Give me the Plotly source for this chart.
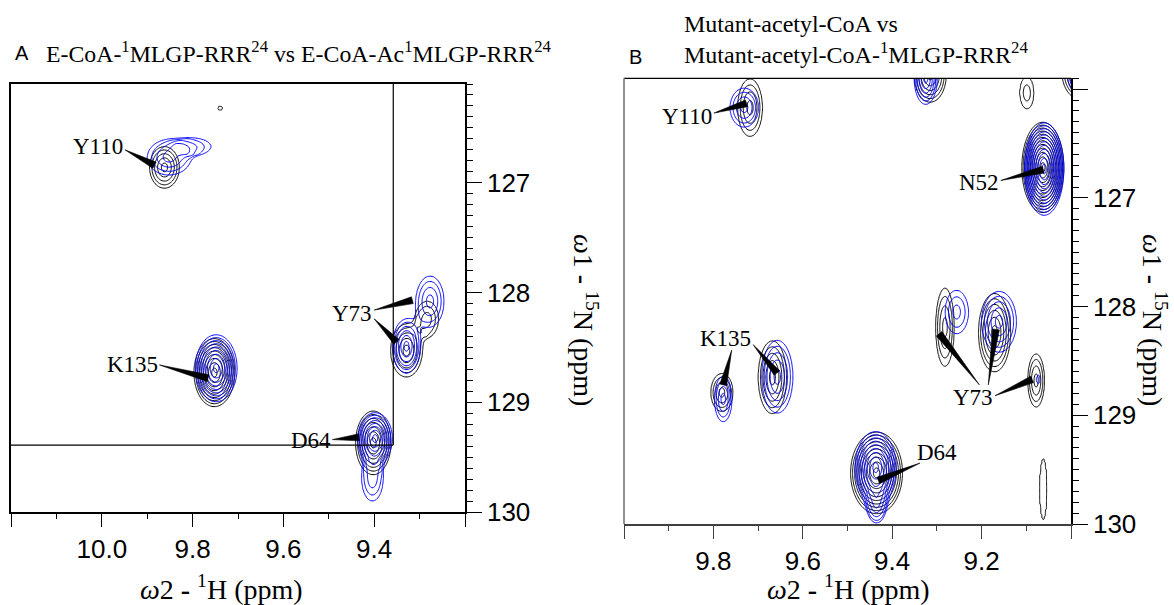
import numpy as np
import plotly.graph_objects as go

FIG_W, FIG_H = 1174, 605

# ---------------- Panel A: E-CoA-1MLGP-RRR24 (black) vs E-CoA-Ac1MLGP-RRR24 (blue) ----------------
# per peak: 1H shift, 15N shift, half-extent of lowest contour (1H, 15N), number of contour levels
A_BLACK_H = [9.862, 9.752, 9.329, 9.283, 9.402, 9.739]
A_BLACK_N = [126.86, 128.73, 128.53, 128.24, 129.37, 126.32]
A_BLACK_DH = [0.033, 0.045, 0.035, 0.025, 0.039, 0.006]
A_BLACK_DN = [0.19, 0.31, 0.24, 0.16, 0.29, 0.02]
A_BLACK_LV = [5, 9, 5, 3, 7, 1]

A_BLUE_H = [9.852, 9.800, 9.748, 9.329, 9.277, 9.398, 9.404]
A_BLUE_N = [126.77, 126.67, 128.69, 128.49, 128.08, 129.33, 129.71]
A_BLUE_DH = [0.048, 0.040, 0.046, 0.031, 0.031, 0.038, 0.023]
A_BLUE_DN = [0.16, 0.075, 0.305, 0.245, 0.23, 0.235, 0.19]
A_BLUE_LV = [4, 2, 9, 6, 4, 8, 3]

A_LABELS = ["Y110", "K135", "Y73", "D64"]
A_LABEL_H = [10.009, 9.932, 9.448, 9.539]
A_LABEL_N = [126.67, 128.66, 128.19, 129.35]
A_PTR_FROM_H = [9.949, 9.873, 9.400, 9.400, 9.492]
A_PTR_FROM_N = [126.70, 128.66, 128.16, 128.24, 129.34]
A_PTR_TO_H = [9.884, 9.766, 9.316, 9.351, 9.434]
A_PTR_TO_N = [126.84, 128.78, 128.07, 128.45, 129.32]

# ---------------- Panel B: Mutant-acetyl-CoA (black) vs Mutant-acetyl-CoA-1MLGP-RRR24 (blue) ----------------
B_BLACK_H = [9.718, 9.315, 9.099, 8.975, 9.063, 9.781, 9.668, 9.282, 9.171, 9.078, 9.435, 9.062]
B_BLACK_N = [126.17, 125.87, 126.03, 125.85, 126.72, 128.79, 128.65, 128.19, 128.24, 128.68, 129.53, 129.68]
B_BLACK_DH = [0.028, 0.036, 0.016, 0.045, 0.047, 0.025, 0.032, 0.021, 0.036, 0.019, 0.058, 0.009]
B_BLACK_DN = [0.265, 0.25, 0.145, 0.25, 0.415, 0.175, 0.335, 0.36, 0.36, 0.245, 0.375, 0.285]
B_BLACK_LV = [4, 6, 2, 7, 12, 4, 5, 4, 6, 4, 10, 1]

B_BLUE_H = [9.731, 9.325, 8.978, 9.060, 9.778, 9.657, 9.256, 9.161, 9.073, 9.437, 9.435]
B_BLUE_N = [126.17, 125.90, 125.86, 126.735, 128.85, 128.645, 128.05, 128.14, 128.67, 129.48, 129.81]
B_BLUE_DH = [0.032, 0.026, 0.030, 0.044, 0.020, 0.035, 0.026, 0.039, 0.005, 0.046, 0.020]
B_BLUE_DN = [0.18, 0.24, 0.20, 0.425, 0.21, 0.335, 0.20, 0.28, 0.04, 0.33, 0.17]
B_BLUE_LV = [4, 6, 6, 12, 4, 5, 3, 5, 1, 9, 4]

B_LABELS = ["Y110", "N52", "K135", "Y73", "D64"]
B_LABEL_H = [9.858, 9.205, 9.773, 9.219, 9.300]
B_LABEL_N = [126.25, 126.86, 128.29, 128.84, 129.34]
B_PTR_FROM_H = [9.799, 9.157, 9.759, 9.711, 9.205, 9.185, 9.170, 9.338]
B_PTR_FROM_N = [126.22, 126.84, 128.40, 128.35, 128.72, 128.72, 128.82, 129.44]
B_PTR_TO_H = [9.726, 9.062, 9.778, 9.658, 9.295, 9.168, 9.087, 9.431]
B_PTR_TO_N = [126.13, 126.74, 128.72, 128.61, 128.25, 128.21, 128.67, 129.60]

# axis windows (ppm)
A_RANGE_H, A_RANGE_N = [10.2, 9.2], [130.0, 126.1]
B_RANGE_H, B_RANGE_N = [10.0, 9.0], [130.0, 125.9]
A_TICKS_H = [10.2, 10.0, 9.8, 9.6, 9.4, 9.2]
A_TICKTEXT_H = [" ", "10.0", "9.8", "9.6", "9.4", " "]
B_TICKS_H = [10.0, 9.8, 9.6, 9.4, 9.2, 9.0]
B_TICKTEXT_H = [" ", "9.8", "9.6", "9.4", "9.2", " "]
A_TICKS_N = [127, 128, 129, 130]
A_TICKTEXT_N = ["127", "128", "129", "130"]
B_TICKS_N = [126, 127, 128, 129, 130]
B_TICKTEXT_N = [" ", "127", "128", "129", "130"]

# boxed window drawn inside panel A
A_BOX_H, A_BOX_N = 9.358, 129.39

# subplot placement (pixels)
A_PX = (11, 465, 84, 512)      # left, right, top, bottom
B_PX = (624, 1071, 78.3, 524)

CONTOUR_FACTOR = 1.3   # ratio between successive contour levels
PROFILE_POWER = 1.4    # shape exponent of the peak profile (log scale)
TAIL_SLOPE = 2.0       # minimum fall-off rate outside the lowest contour
BLACK, BLUE = "#000000", "#0000ff"
SERIF = "Liberation Serif, Times New Roman, serif"
SANS = "Liberation Sans, Arial, sans-serif"


def spectrum(h_axis, n_axis, ph, pn, dh, dn, nlev):
    """Sum of peak profiles; returned as log10 intensity (equal steps = geometric levels)."""
    H, N = np.meshgrid(h_axis, n_axis)
    total = np.zeros_like(H)
    lf = np.log(CONTOUR_FACTOR)
    for h0, n0, hx, hy, k in zip(ph, pn, dh, dn, nlev):
        ln_a = (k - 0.5) * lf
        rho = np.sqrt(((H - h0) / hx) ** 2 + ((N - n0) / hy) ** 2)
        s = rho ** PROFILE_POWER - 1.0
        ln_i = np.where(s <= 0, -ln_a * s, -max(ln_a, TAIL_SLOPE) * s)
        total += np.exp(np.maximum(ln_i, -30.0))
    return np.log10(np.maximum(total, 1e-5)).astype(np.float32)


def contour_trace(h_axis, n_axis, z, color, xa, ya):
    step = float(np.log10(CONTOUR_FACTOR))
    return go.Contour(
        x=h_axis.astype(np.float32), y=n_axis.astype(np.float32), z=z,
        xaxis=xa, yaxis=ya, autocontour=False,
        contours=dict(start=0.0, end=step * 30, size=step, coloring="lines"),
        colorscale=[[0, color], [1, color]], showscale=False,
        line=dict(width=1), hoverinfo="skip",
    )


def wedge_traces(fh, fn, th, tn, px, rng_h, rng_n, xa, ya, base=7.0):
    kx = (px[1] - px[0]) / (rng_h[1] - rng_h[0])     # px per ppm (1H), screen x
    ky = (px[3] - px[2]) / (rng_n[0] - rng_n[1])     # px per ppm (15N), screen y downwards
    out = []
    for h0, n0, h1, n1 in zip(fh, fn, th, tn):
        dx, dy = (h1 - h0) * kx, (n1 - n0) * ky
        ln = np.hypot(dx, dy)
        ux, uy = dx / ln, dy / ln
        ox, oy = -uy * base / 2, ux * base / 2
        xs = [h0, h1 + ox / kx, h1 - ox / kx, h0]
        ys = [n0, n1 + oy / ky, n1 - oy / ky, n0]
        out.append(go.Scatter(x=xs, y=ys, mode="lines", fill="toself", fillcolor="black",
                              line=dict(color="black", width=0.6), xaxis=xa, yaxis=ya,
                              hoverinfo="skip", showlegend=False))
    return out


fig = go.Figure()

# panel A spectra
a_h = np.arange(9.15, 10.25, 0.0025)
a_n = np.arange(126.0, 130.2, 0.008)
fig.add_trace(contour_trace(a_h, a_n, spectrum(a_h, a_n, A_BLACK_H, A_BLACK_N, A_BLACK_DH, A_BLACK_DN, A_BLACK_LV), BLACK, "x", "y"))
fig.add_trace(contour_trace(a_h, a_n, spectrum(a_h, a_n, A_BLUE_H, A_BLUE_N, A_BLUE_DH, A_BLUE_DN, A_BLUE_LV), BLUE, "x", "y"))

# panel B spectra
b_h = np.arange(8.92, 10.05, 0.0025)
b_n = np.arange(125.6, 130.2, 0.008)
fig.add_trace(contour_trace(b_h, b_n, spectrum(b_h, b_n, B_BLACK_H, B_BLACK_N, B_BLACK_DH, B_BLACK_DN, B_BLACK_LV), BLACK, "x2", "y2"))
fig.add_trace(contour_trace(b_h, b_n, spectrum(b_h, b_n, B_BLUE_H, B_BLUE_N, B_BLUE_DH, B_BLUE_DN, B_BLUE_LV), BLUE, "x2", "y2"))

for t in wedge_traces(A_PTR_FROM_H, A_PTR_FROM_N, A_PTR_TO_H, A_PTR_TO_N, A_PX, A_RANGE_H, A_RANGE_N, "x", "y"):
    fig.add_trace(t)
for t in wedge_traces(B_PTR_FROM_H, B_PTR_FROM_N, B_PTR_TO_H, B_PTR_TO_N, B_PX, B_RANGE_H, B_RANGE_N, "x2", "y2"):
    fig.add_trace(t)


def dom_x(px):
    return [px[0] / FIG_W, px[1] / FIG_W]


def dom_y(px):
    return [1 - px[3] / FIG_H, 1 - px[2] / FIG_H]


tick_font = dict(family=SANS, size=26, color="black")


def h_axis(px, rng, vals, text, anchor, color, mirror):
    return dict(domain=dom_x(px), range=rng, anchor=anchor, tickmode="array", tickvals=vals, ticktext=text,
                ticks="outside", ticklen=13, tickwidth=1.3, tickcolor=color,
                showline=True, linecolor=color, linewidth=1.8, mirror=mirror,
                minor=dict(ticks="outside", ticklen=5, tickwidth=1.2, tickcolor=color,
                           tickmode="linear", tick0=0, dtick=0.1, showgrid=False),
                showgrid=False, zeroline=False, tickfont=tick_font, fixedrange=True, automargin=False)


def n_axis(px, rng, vals, text, anchor, mirror):
    return dict(domain=dom_y(px), range=rng, anchor=anchor, side="right", tickmode="array",
                tickvals=vals, ticktext=text, ticks="outside", ticklen=15, tickwidth=1.3, tickcolor="black",
                showline=True, linecolor="black", linewidth=1.5, mirror=mirror,
                minor=dict(ticks="outside", ticklen=6, tickwidth=1.2, tickcolor="black",
                           tickmode="linear", tick0=0, dtick=0.1, showgrid=False),
                showgrid=False, zeroline=False, tickfont=tick_font, fixedrange=True, automargin=False)


annotations = []
for txt, h, n in zip(A_LABELS, A_LABEL_H, A_LABEL_N):
    annotations.append(dict(x=h, y=n, xref="x", yref="y", text=txt, showarrow=False,
                            font=dict(family=SERIF, size=23, color="black")))
for txt, h, n in zip(B_LABELS, B_LABEL_H, B_LABEL_N):
    annotations.append(dict(x=h, y=n, xref="x2", yref="y2", text=txt, showarrow=False,
                            font=dict(family=SERIF, size=23, color="black")))

x_title = "<i>ω</i>2 <b>-</b> <sup>1</sup>H (ppm)"
y_title = "<i>ω</i>1 <b>-</b> <sup>15</sup>N (ppm)"
for cx in (221, 848):
    annotations.append(dict(x=cx / FIG_W, y=1 - 587.5 / FIG_H, xref="paper", yref="paper", text=x_title,
                            showarrow=False, xanchor="center", yanchor="middle",
                            font=dict(family=SERIF, size=28, color="black")))
for cx in (586, 1155):
    annotations.append(dict(x=cx / FIG_W, y=1 - 320 / FIG_H, xref="paper", yref="paper", text=y_title,
                            showarrow=False, textangle=90, xanchor="center", yanchor="middle",
                            font=dict(family=SERIF, size=28, color="black")))

annotations += [
    dict(x=13 / FIG_W, y=1 - 53 / FIG_H, xref="paper", yref="paper", text="A", showarrow=False,
         xanchor="left", yanchor="middle", font=dict(family=SANS, size=20, color="black")),
    dict(x=44 / FIG_W, y=1 - 52 / FIG_H, xref="paper", yref="paper",
         text="E-CoA-<sup>1</sup>MLGP-RRR<sup>24</sup> vs E-CoA-Ac<sup>1</sup>MLGP-RRR<sup>24</sup>",
         showarrow=False, xanchor="left", yanchor="middle", font=dict(family=SERIF, size=23.8, color="black")),
    dict(x=627 / FIG_W, y=1 - 57 / FIG_H, xref="paper", yref="paper", text="B", showarrow=False,
         xanchor="left", yanchor="middle", font=dict(family=SANS, size=20, color="black")),
    dict(x=682 / FIG_W, y=1 - 39 / FIG_H, xref="paper", yref="paper",
         text="Mutant-acetyl-CoA vs<br>Mutant-acetyl-CoA-<sup>1</sup>MLGP-RRR<sup>24</sup>",
         showarrow=False, xanchor="left", yanchor="middle", align="left",
         font=dict(family=SERIF, size=24, color="black")),
]

shapes = [
    # boxed window inside panel A
    dict(type="line", xref="x", yref="y", x0=A_RANGE_H[0], x1=A_BOX_H, y0=A_BOX_N, y1=A_BOX_N,
         line=dict(color="black", width=1.2)),
    dict(type="line", xref="x", yref="y", x0=A_BOX_H, x1=A_BOX_H, y0=A_RANGE_N[1], y1=A_BOX_N,
         line=dict(color="black", width=1.2)),
    # panel B frame: top and left edges
    dict(type="line", xref="x2 domain", yref="y2 domain", x0=0, x1=1, y0=1, y1=1,
         line=dict(color="black", width=1.3)),
    dict(type="line", xref="x2 domain", yref="y2 domain", x0=0, x1=0, y0=0, y1=1,
         line=dict(color="#858585", width=1.8)),
]

fig.update_layout(
    width=FIG_W, height=FIG_H, margin=dict(l=0, r=0, t=0, b=0, autoexpand=False),
    paper_bgcolor="white", plot_bgcolor="white", showlegend=False,
    xaxis=h_axis(A_PX, A_RANGE_H, A_TICKS_H, A_TICKTEXT_H, "y", "black", True),
    yaxis=n_axis(A_PX, A_RANGE_N, A_TICKS_N, A_TICKTEXT_N, "x", True),
    xaxis2=h_axis(B_PX, B_RANGE_H, B_TICKS_H, B_TICKTEXT_H, "y2", "#404040", False),
    yaxis2=n_axis(B_PX, B_RANGE_N, B_TICKS_N, B_TICKTEXT_N, "x2", False),
    annotations=annotations, shapes=shapes,
)

fig.write_html("out.html")
